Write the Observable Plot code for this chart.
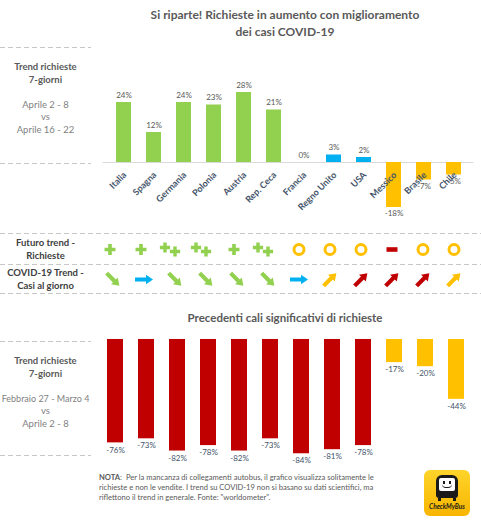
<!DOCTYPE html>
<html><head><meta charset="utf-8">
<script src="https://cdn.jsdelivr.net/npm/d3@7"></script>
<script src="https://cdn.jsdelivr.net/npm/@observablehq/plot@0.6"></script>
<style>
body{margin:0;background:#fff;font-family:Lato,"Open Sans",sans-serif}
#page{position:relative;width:481px;height:529px;overflow:hidden;background:#fff}
.abs{position:absolute}
.dash{position:absolute;height:1px;background:repeating-linear-gradient(to right,#C8C8C8 0 5px,transparent 5px 8px)}
.ttl{position:absolute;left:90px;width:390px;text-align:center;font-weight:bold;color:#595959;font-size:12px;line-height:17px}
.lbl{position:absolute;left:-15px;width:121px;text-align:center;font-size:9.5px;line-height:12.5px;color:#7F7F7F;white-space:nowrap}
.lbl b{color:#595959}
.row{position:absolute;left:0;width:91px;text-align:center;font-size:9.5px;line-height:12.5px;color:#404040;font-weight:bold}
.note{position:absolute;left:99px;top:472px;font-size:7.6px;line-height:10px;color:#595959;white-space:nowrap}
.logo{position:absolute;left:424px;top:470px;width:46px;height:46px;border-radius:6px;background:linear-gradient(#FFD42A,#F7B500)}
</style>
</head><body>
<div id="page">
  <div class="ttl" style="top:6px">Si riparte! Richieste in aumento con miglioramento<br>dei casi COVID-19</div>
  <div class="dash" style="left:0;top:47px;width:91px"></div>
  <div class="lbl" style="top:61px"><b>Trend richieste<br>7-giorni</b><br><br>Aprile 2 - 8<br>vs<br>Aprile 16 - 22</div>
  <div class="dash" style="left:0;top:163px;width:91px"></div>
  <div id="top" class="abs" style="left:0;top:60px"></div>
  <div class="dash" style="left:0;top:233px;width:481px"></div>
  <div class="row" style="top:237px">Futuro trend -<br>Richieste</div>
  <div class="dash" style="left:0;top:264px;width:481px"></div>
  <div class="row" style="top:267px">COVID-19 Trend -<br>Casi al giorno</div>
  <div class="dash" style="left:0;top:293px;width:481px"></div>
  <div id="icons" class="abs" style="left:0;top:234px"></div>
  <div class="ttl" style="top:309px;font-size:11.5px">Precedenti cali significativi di richieste</div>
  <div class="dash" style="left:0;top:341px;width:91px"></div>
  <div class="lbl" style="top:355px"><b>Trend richieste<br>7-giorni</b><br><br><span style="font-size:9px">Febbraio 27 - Marzo 4</span><br>vs<br>Aprile 2 - 8</div>
  <div class="dash" style="left:0;top:455px;width:91px"></div>
  <div id="bottom" class="abs" style="left:0;top:330px"></div>
  <div class="note"><b>NOTA</b>:&nbsp; Per la mancanza di collegamenti autobus, il grafico visualizza solitamente le<br>richieste e non le vendite. I trend su COVID-19 non si basano su dati scientifici, ma<br>riflettono il trend in generale. Fonte: "worldometer".</div>
  <div class="logo">
    <div style="position:absolute;left:12px;top:5px;width:22px;height:23px;background:#1a1a1a;border-radius:6px 6px 3px 3px"></div>
    <div style="position:absolute;left:15px;top:8px;width:16px;height:13px;background:#fff;border-radius:2px"></div>
    <div style="position:absolute;left:19px;top:11px;width:2px;height:3px;background:#1a1a1a"></div>
    <div style="position:absolute;left:25px;top:11px;width:2px;height:3px;background:#1a1a1a"></div>
    <div style="position:absolute;left:18px;top:14px;width:10px;height:3px;border-bottom:1.5px solid #1a1a1a;border-radius:0 0 5px 5px"></div>
    <div style="position:absolute;left:14px;top:28px;width:3px;height:3px;background:#1a1a1a"></div>
    <div style="position:absolute;left:29px;top:28px;width:3px;height:3px;background:#1a1a1a"></div>
    <div style="position:absolute;left:0;top:33px;width:46px;text-align:center;font-size:6.5px;font-weight:bold;font-style:italic;color:#1a1a1a">CheckMyBus</div>
  </div>
</div>
<script>
const countries = ["Italia","Spagna","Germania","Polonia","Austria","Rep. Ceca","Francia","Regno Unito","USA","Messico","Brasile","Chile"];
const trendApr = [24,12,24,23,28,21,0,3,2,-18,-7,-5];
const trendAprColors = ["#92D050","#92D050","#92D050","#92D050","#92D050","#92D050","#00B0F0","#00B0F0","#00B0F0","#FFC000","#FFC000","#FFC000"];
const futuro = ["+","+","++","++","+","++","o","o","o","-","o","o"];
const covidDir = ["down","right","down","down","down","down","right","up","up","up","up","up"];
const covidColors = ["#92D050","#00B0F0","#92D050","#92D050","#92D050","#92D050","#00B0F0","#FFC000","#C00000","#C00000","#C00000","#FFC000"];
const trendMar = [-76,-73,-82,-78,-82,-73,-84,-81,-78,-17,-20,-44];
const trendMarColors = ["#C00000","#C00000","#C00000","#C00000","#C00000","#C00000","#C00000","#C00000","#C00000","#FFC000","#FFC000","#FFC000"];

const pct = v => `${v}%`;
const font = "Lato, 'Open Sans', sans-serif";

// top chart
const topData = countries.map((c,i)=>({country:c, value:trendApr[i], color:trendAprColors[i]}));
document.getElementById("top").append(Plot.plot({
  width:481, height:180, marginLeft:102.5, marginRight:7.5, marginTop:0, marginBottom:0,
  style:{fontFamily:font, background:"transparent", overflow:"visible"},
  x:{type:"band", domain:countries, paddingInner:0.5, paddingOuter:0.25, axis:null},
  y:{domain:[-31.2,40.8], axis:null},
  color:{type:"identity"},
  marks:[
    Plot.ruleY([0],{stroke:"#D9D9D9"}),
    Plot.barY(topData,{x:"country", y:"value", fill:"color"}),
    Plot.text(topData.filter(d=>d.value>=0),{x:"country", y:"value", text:d=>pct(d.value), lineAnchor:"bottom", dy:-5, fontSize:8, fill:"#595959"}),
    Plot.text(topData.filter(d=>d.value<0),{x:"country", y:"value", text:d=>pct(d.value), lineAnchor:"top", dy:3, fontSize:8, fill:"#595959"}),
    Plot.text(topData,{x:"country", y:0, text:"country", rotate:-45, textAnchor:"end", dx:1, dy:11, fontSize:9, fontWeight:"bold", fill:"#44546A"})
  ]
}));

// icons rows
function arrowSym(angle){
  const a = angle*Math.PI/180, c = Math.cos(a), s = Math.sin(a);
  const L = 18, h = 7, H = 4.8, w = 2.1;
  const pts = [[-L/2,-w],[L/2-h,-w],[L/2-h,-H],[L/2,0],[L/2-h,H],[L/2-h,w],[-L/2,w]];
  return {draw(ctx){ pts.forEach(([x,y],i)=>{const X=x*c-y*s, Y=x*s+y*c; if(i) ctx.lineTo(X,Y); else ctx.moveTo(X,Y);}); ctx.closePath(); }};
}
const minusSym = {draw(ctx){ ctx.rect(-5.5,-2.3,11,4.6); }};
const dirAngle = {down:45, right:0, up:-45};
const rowF = countries.map((c,i)=>({country:c, row:"futuro", v:futuro[i]}));
const rowC = countries.map((c,i)=>({country:c, row:"covid", dir:covidDir[i], color:covidColors[i]}));
document.getElementById("icons").append(Plot.plot({
  width:481, height:60, marginLeft:95.4, marginRight:10.4, marginTop:0, marginBottom:0,
  style:{fontFamily:font, background:"transparent", overflow:"visible"},
  x:{type:"band", domain:countries, padding:0, axis:null},
  y:{type:"band", domain:["futuro","covid"], padding:0, axis:null},
  color:{type:"identity"},
  marks:[
    Plot.dot(rowF.filter(d=>d.v==="+"),{x:"country", y:"row", symbol:"cross", r:4.6, fill:"#92D050", stroke:null, dx:-3}),
    Plot.dot(rowF.filter(d=>d.v==="++"),{x:"country", y:"row", symbol:"cross", r:4.3, fill:"#92D050", stroke:null, dx:-10, dy:-2}),
    Plot.dot(rowF.filter(d=>d.v==="++"),{x:"country", y:"row", symbol:"cross", r:4.3, fill:"#92D050", stroke:null, dx:0, dy:2}),
    Plot.dot(rowF.filter(d=>d.v==="o"),{x:"country", y:"row", r:5, stroke:"#FFC000", strokeWidth:3, fill:"none"}),
    Plot.dot(rowF.filter(d=>d.v==="-"),{x:"country", y:"row", symbol:minusSym, r:4, fill:"#C00000", stroke:null}),
    ...["down","right","up"].map(dir => Plot.dot(rowC.filter(d=>d.dir===dir),{x:"country", y:"row", symbol:arrowSym(dirAngle[dir]), r:5, fill:"color", stroke:null}))
  ]
}));

// bottom chart
const botData = countries.map((c,i)=>({country:c, value:trendMar[i], color:trendMarColors[i]}));
document.getElementById("bottom").append(Plot.plot({
  width:481, height:140, marginLeft:99, marginRight:9, marginTop:0, marginBottom:0,
  style:{fontFamily:font, background:"transparent", overflow:"visible"},
  x:{type:"band", domain:countries, paddingInner:0.5, paddingOuter:0.25, axis:null},
  y:{domain:[-96.3,6.6], axis:null},
  color:{type:"identity"},
  marks:[
    Plot.barY(botData,{x:"country", y:"value", fill:"color"}),
    Plot.text(botData,{x:"country", y:"value", text:d=>pct(d.value), lineAnchor:"top", dy:4, fontSize:8, fill:"#44546A"})
  ]
}));
</script>
</body></html>
